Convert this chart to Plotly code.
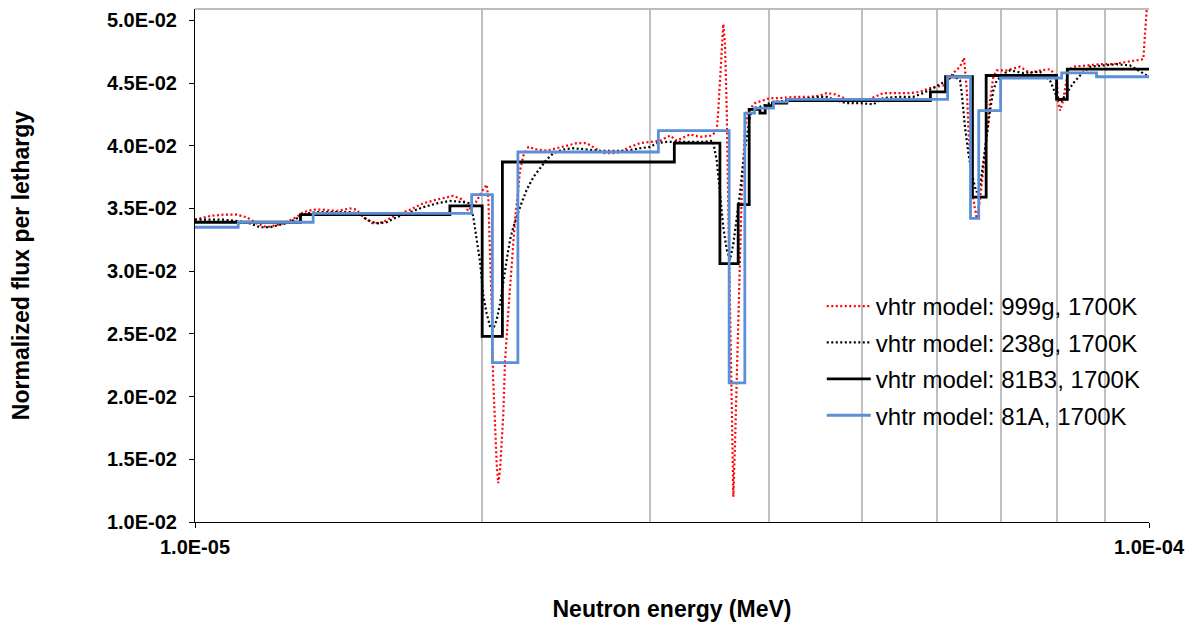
import plotly.graph_objects as go

# ---------------- data ----------------
# energies in MeV, flux per lethargy (normalized)
E_999G = [1.000e-5, 1.037e-5, 1.070e-5, 1.106e-5, 1.133e-5, 1.161e-5, 1.189e-5, 1.237e-5, 1.278e-5, 1.298e-5,
          1.330e-5, 1.362e-5, 1.408e-5, 1.454e-5, 1.477e-5, 1.500e-5, 1.537e-5, 1.574e-5, 1.627e-5, 1.680e-5,
          1.734e-5, 1.792e-5, 1.865e-5, 1.910e-5, 1.933e-5, 1.970e-5, 2.004e-5, 2.022e-5, 2.030e-5, 2.038e-5,
          2.047e-5, 2.054e-5, 2.063e-5, 2.071e-5, 2.079e-5, 2.088e-5, 2.105e-5, 2.113e-5, 2.130e-5, 2.148e-5,
          2.165e-5, 2.182e-5, 2.191e-5, 2.209e-5, 2.236e-5, 2.281e-5, 2.337e-5, 2.394e-5, 2.453e-5, 2.513e-5,
          2.574e-5, 2.615e-5, 2.679e-5, 2.745e-5, 2.789e-5, 2.857e-5, 2.927e-5, 2.999e-5, 3.072e-5, 3.147e-5,
          3.198e-5, 3.303e-5, 3.383e-5, 3.480e-5, 3.523e-5, 3.536e-5, 3.551e-5, 3.565e-5, 3.579e-5, 3.594e-5,
          3.609e-5, 3.623e-5, 3.638e-5, 3.652e-5, 3.667e-5, 3.682e-5, 3.697e-5, 3.711e-5, 3.726e-5, 3.742e-5,
          3.772e-5, 3.802e-5, 3.864e-5, 4.006e-5, 4.104e-5, 4.273e-5, 4.412e-5, 4.520e-5, 4.594e-5, 4.687e-5,
          4.860e-5, 5.039e-5, 5.162e-5, 5.266e-5, 5.439e-5, 5.617e-5, 5.754e-5, 5.895e-5, 5.991e-5, 6.087e-5,
          6.236e-5, 6.337e-5, 6.399e-5, 6.445e-5, 6.466e-5, 6.492e-5, 6.519e-5, 6.571e-5, 6.598e-5, 6.651e-5,
          6.704e-5, 6.759e-5, 6.813e-5, 6.868e-5, 6.924e-5, 7.093e-5, 7.325e-5, 7.504e-5, 7.687e-5, 7.875e-5,
          8.003e-5, 8.034e-5, 8.067e-5, 8.120e-5, 8.231e-5, 8.331e-5, 8.604e-5, 8.885e-5, 9.175e-5, 9.476e-5,
          9.708e-5, 9.864e-5, 9.904e-5, 9.945e-5, 1.000e-4]
FLUX_999G = [3.41e-2, 3.44e-2, 3.45e-2, 3.45e-2, 3.43e-2, 3.38e-2, 3.35e-2, 3.38e-2, 3.43e-2, 3.47e-2,
             3.49e-2, 3.49e-2, 3.48e-2, 3.50e-2, 3.49e-2, 3.43e-2, 3.38e-2, 3.39e-2, 3.45e-2, 3.49e-2,
             3.54e-2, 3.57e-2, 3.60e-2, 3.57e-2, 3.48e-2, 3.55e-2, 3.65e-2, 3.69e-2, 3.58e-2, 3.19e-2,
             2.67e-2, 2.13e-2, 1.73e-2, 1.47e-2, 1.31e-2, 1.41e-2, 1.87e-2, 2.27e-2, 2.67e-2, 3.06e-2,
             3.41e-2, 3.65e-2, 3.80e-2, 3.92e-2, 3.99e-2, 3.97e-2, 3.96e-2, 3.98e-2, 4.00e-2, 4.02e-2,
             4.02e-2, 3.99e-2, 3.94e-2, 3.94e-2, 3.95e-2, 3.99e-2, 4.02e-2, 4.03e-2, 4.04e-2, 4.08e-2,
             4.04e-2, 4.09e-2, 4.07e-2, 4.08e-2, 4.12e-2, 4.28e-2, 4.55e-2, 4.81e-2, 4.97e-2, 4.81e-2,
             4.28e-2, 3.49e-2, 2.69e-2, 1.89e-2, 1.20e-2, 1.63e-2, 2.16e-2, 2.69e-2, 3.22e-2, 3.62e-2,
             4.15e-2, 4.28e-2, 4.34e-2, 4.38e-2, 4.38e-2, 4.39e-2, 4.39e-2, 4.40e-2, 4.42e-2, 4.41e-2,
             4.36e-2, 4.36e-2, 4.39e-2, 4.42e-2, 4.42e-2, 4.42e-2, 4.43e-2, 4.46e-2, 4.47e-2, 4.48e-2,
             4.58e-2, 4.63e-2, 4.70e-2, 4.42e-2, 4.15e-2, 3.88e-2, 3.67e-2, 3.49e-2, 3.42e-2, 3.57e-2,
             3.80e-2, 4.07e-2, 4.36e-2, 4.55e-2, 4.60e-2, 4.60e-2, 4.63e-2, 4.58e-2, 4.60e-2, 4.61e-2,
             4.55e-2, 4.34e-2, 4.28e-2, 4.35e-2, 4.60e-2, 4.63e-2, 4.64e-2, 4.65e-2, 4.65e-2, 4.67e-2,
             4.68e-2, 4.69e-2, 4.89e-2, 5.08e-2, 5.22e-2]

E_238G = [1.000e-5, 1.037e-5, 1.071e-5, 1.106e-5, 1.142e-5, 1.170e-5, 1.198e-5, 1.228e-5, 1.258e-5, 1.278e-5,
          1.309e-5, 1.341e-5, 1.385e-5, 1.454e-5, 1.489e-5, 1.514e-5, 1.550e-5, 1.588e-5, 1.627e-5, 1.680e-5,
          1.735e-5, 1.792e-5, 1.851e-5, 1.911e-5, 1.942e-5, 1.958e-5, 1.974e-5, 1.990e-5, 1.998e-5, 2.006e-5,
          2.022e-5, 2.038e-5, 2.051e-5, 2.071e-5, 2.088e-5, 2.105e-5, 2.122e-5, 2.139e-5, 2.156e-5, 2.191e-5,
          2.227e-5, 2.263e-5, 2.300e-5, 2.337e-5, 2.375e-5, 2.433e-5, 2.492e-5, 2.574e-5, 2.658e-5, 2.745e-5,
          2.835e-5, 2.927e-5, 2.999e-5, 3.048e-5, 3.122e-5, 3.198e-5, 3.303e-5, 3.411e-5, 3.491e-5, 3.523e-5,
          3.551e-5, 3.579e-5, 3.609e-5, 3.638e-5, 3.667e-5, 3.697e-5, 3.726e-5, 3.756e-5, 3.787e-5, 3.817e-5,
          3.848e-5, 3.910e-5, 4.038e-5, 4.204e-5, 4.520e-5, 4.594e-5, 4.706e-5, 4.821e-5, 4.978e-5, 5.141e-5,
          5.266e-5, 5.483e-5, 5.662e-5, 5.800e-5, 5.942e-5, 6.137e-5, 6.236e-5, 6.337e-5, 6.363e-5, 6.388e-5,
          6.414e-5, 6.466e-5, 6.519e-5, 6.571e-5, 6.598e-5, 6.651e-5, 6.704e-5, 6.759e-5, 6.813e-5, 6.868e-5,
          6.924e-5, 7.064e-5, 7.150e-5, 7.383e-5, 7.687e-5, 7.875e-5, 7.938e-5, 8.003e-5, 8.100e-5, 8.199e-5,
          8.331e-5, 8.467e-5, 8.674e-5, 8.957e-5, 9.251e-5, 9.552e-5, 9.786e-5, 1.000e-4]
FLUX_238G = [3.41e-2, 3.41e-2, 3.41e-2, 3.40e-2, 3.38e-2, 3.35e-2, 3.35e-2, 3.37e-2, 3.39e-2, 3.42e-2,
             3.46e-2, 3.47e-2, 3.47e-2, 3.47e-2, 3.46e-2, 3.41e-2, 3.38e-2, 3.39e-2, 3.43e-2, 3.47e-2,
             3.51e-2, 3.54e-2, 3.56e-2, 3.55e-2, 3.54e-2, 3.43e-2, 3.26e-2, 3.07e-2, 2.93e-2, 2.80e-2,
             2.66e-2, 2.56e-2, 2.53e-2, 2.61e-2, 2.74e-2, 2.93e-2, 3.09e-2, 3.25e-2, 3.35e-2, 3.51e-2,
             3.65e-2, 3.75e-2, 3.82e-2, 3.89e-2, 3.94e-2, 3.97e-2, 3.98e-2, 3.97e-2, 3.96e-2, 3.96e-2,
             3.96e-2, 3.98e-2, 3.99e-2, 4.02e-2, 4.03e-2, 4.03e-2, 4.03e-2, 4.03e-2, 4.04e-2, 3.88e-2,
             3.62e-2, 3.35e-2, 3.17e-2, 3.09e-2, 3.22e-2, 3.43e-2, 3.62e-2, 3.88e-2, 4.07e-2, 4.23e-2,
             4.30e-2, 4.31e-2, 4.35e-2, 4.36e-2, 4.39e-2, 4.39e-2, 4.36e-2, 4.34e-2, 4.34e-2, 4.33e-2,
             4.38e-2, 4.39e-2, 4.39e-2, 4.42e-2, 4.46e-2, 4.52e-2, 4.56e-2, 4.52e-2, 4.42e-2, 4.28e-2,
             4.15e-2, 3.94e-2, 3.78e-2, 3.67e-2, 3.63e-2, 3.67e-2, 3.88e-2, 4.10e-2, 4.28e-2, 4.44e-2,
             4.52e-2, 4.58e-2, 4.60e-2, 4.58e-2, 4.59e-2, 4.52e-2, 4.46e-2, 4.39e-2, 4.36e-2, 4.42e-2,
             4.50e-2, 4.56e-2, 4.63e-2, 4.64e-2, 4.65e-2, 4.64e-2, 4.59e-2, 4.55e-2]

# group structures: bin edges (MeV) and group flux values
EDGES_81B3 = [1.00e-5, 1.29e-5, 1.85e-5, 2.00e-5, 2.10e-5, 3.18e-5, 3.55e-5, 3.71e-5, 3.81e-5, 3.91e-5,
              3.96e-5, 4.03e-5, 4.17e-5, 5.90e-5, 6.12e-5, 6.53e-5, 6.75e-5, 8.00e-5, 8.21e-5, 1.00e-4]
FLUX_81B3 = [3.39e-2, 3.45e-2, 3.52e-2, 2.48e-2, 3.87e-2, 4.02e-2, 3.06e-2, 3.53e-2, 4.29e-2, 4.26e-2,
             4.32e-2, 4.34e-2, 4.36e-2, 4.43e-2, 4.55e-2, 3.59e-2, 4.56e-2, 4.37e-2, 4.61e-2]

EDGES_81A = [1.00e-5, 1.11e-5, 1.33e-5, 1.95e-5, 2.05e-5, 2.18e-5, 3.06e-5, 3.63e-5, 3.77e-5, 3.86e-5,
             4.04e-5, 4.18e-5, 6.15e-5, 6.50e-5, 6.63e-5, 6.99e-5, 8.10e-5, 8.81e-5, 1.00e-4]
FLUX_81A = [3.35e-2, 3.39e-2, 3.46e-2, 3.61e-2, 2.27e-2, 3.95e-2, 4.12e-2, 2.11e-2, 4.26e-2, 4.30e-2,
            4.35e-2, 4.37e-2, 4.55e-2, 3.42e-2, 4.28e-2, 4.54e-2, 4.58e-2, 4.55e-2]

SERIES_NAMES = ["vhtr model: 999g, 1700K", "vhtr model: 238g, 1700K",
                "vhtr model: 81B3, 1700K", "vhtr model: 81A, 1700K"]

X_TICK_VALUES = [1e-5, 1e-4]
X_TICK_LABELS = ["1.0E-05", "1.0E-04"]
X_GRID_VALUES = [2e-5, 3e-5, 4e-5, 5e-5, 6e-5, 7e-5, 8e-5, 9e-5]
Y_TICK_VALUES = [0.010, 0.015, 0.020, 0.025, 0.030, 0.035, 0.040, 0.045, 0.050]
Y_TICK_LABELS = ["1.0E-02", "1.5E-02", "2.0E-02", "2.5E-02", "3.0E-02",
                 "3.5E-02", "4.0E-02", "4.5E-02", "5.0E-02"]

X_TITLE = "Neutron energy (MeV)"
Y_TITLE = "Normalized flux per lethargy"

FONT = "Liberation Sans, Arial, sans-serif"
BLUE = "#5B8FD6"

# ---------------- figure ----------------
fig = go.Figure()

fig.add_trace(go.Scatter(x=E_999G, y=FLUX_999G, mode="lines", name=SERIES_NAMES[0], legendgroup="g1",
                         line=dict(color="#FF0000", width=2.2, dash="2px,2.5px")))
fig.add_trace(go.Scatter(x=E_238G, y=FLUX_238G, mode="lines", name=SERIES_NAMES[1], legendgroup="g2",
                         line=dict(color="#000000", width=2.2, dash="2px,2.5px")))
fig.add_trace(go.Scatter(x=EDGES_81B3, y=FLUX_81B3 + FLUX_81B3[-1:], mode="lines", name=SERIES_NAMES[2],
                         legendgroup="g3", line=dict(color="#000000", width=2.8, shape="hv")))
fig.add_trace(go.Scatter(x=EDGES_81A, y=FLUX_81A + FLUX_81A[-1:], mode="lines", name=SERIES_NAMES[3],
                         legendgroup="g4", line=dict(color=BLUE, width=2.8, shape="hv")))

# the page body adds an 8px offset; figure is sized so the plot area lands at the reference position
fig.update_layout(
    width=1188, height=618, autosize=False,
    margin=dict(l=187, r=47, t=1, b=104),
    plot_bgcolor="white", paper_bgcolor="white",
    font=dict(family=FONT, color="black"),
    legend=dict(x=0.657, y=0.464, xanchor="left", yanchor="top", tracegroupgap=2.2,
                bgcolor="rgba(0,0,0,0)", font=dict(family=FONT, size=24, color="black"),
                itemwidth=44),
    shapes=[dict(type="line", xref="paper", yref="paper", x0=0, x1=1, y0=1, y1=1,
                 line=dict(color="#A6A6A6", width=1.5), layer="below")],
)

fig.update_xaxes(
    type="log", range=[-5, -4], automargin=False,
    tickmode="array", tickvals=X_TICK_VALUES, ticktext=X_TICK_LABELS,
    ticks="outside", ticklen=5, tickcolor="black",
    showline=True, linecolor="black", linewidth=1,
    showgrid=True, gridcolor="#BFBFBF", gridwidth=1.5,
    minor=dict(tickmode="array", tickvals=X_GRID_VALUES, showgrid=True,
               gridcolor="#BFBFBF", gridwidth=1.5, ticks=""),
    tickfont=dict(family=FONT, size=20, weight="bold", color="black"),
    ticklabelstandoff=2,
    title=dict(text=X_TITLE, font=dict(family=FONT, size=23, weight="bold"), standoff=43),
    zeroline=False,
)

fig.update_yaxes(
    range=[0.01, 0.0509], automargin=False,
    tickmode="array", tickvals=Y_TICK_VALUES, ticktext=Y_TICK_LABELS,
    ticks="outside", ticklen=5, tickcolor="black",
    showline=True, linecolor="black", linewidth=1,
    showgrid=False, zeroline=False,
    tickfont=dict(family=FONT, size=20, weight="bold", color="black"),
    ticklabelstandoff=8,
    title=dict(text=Y_TITLE, font=dict(family=FONT, size=23, weight="bold"), standoff=70),
)

fig.write_html("out.html")
